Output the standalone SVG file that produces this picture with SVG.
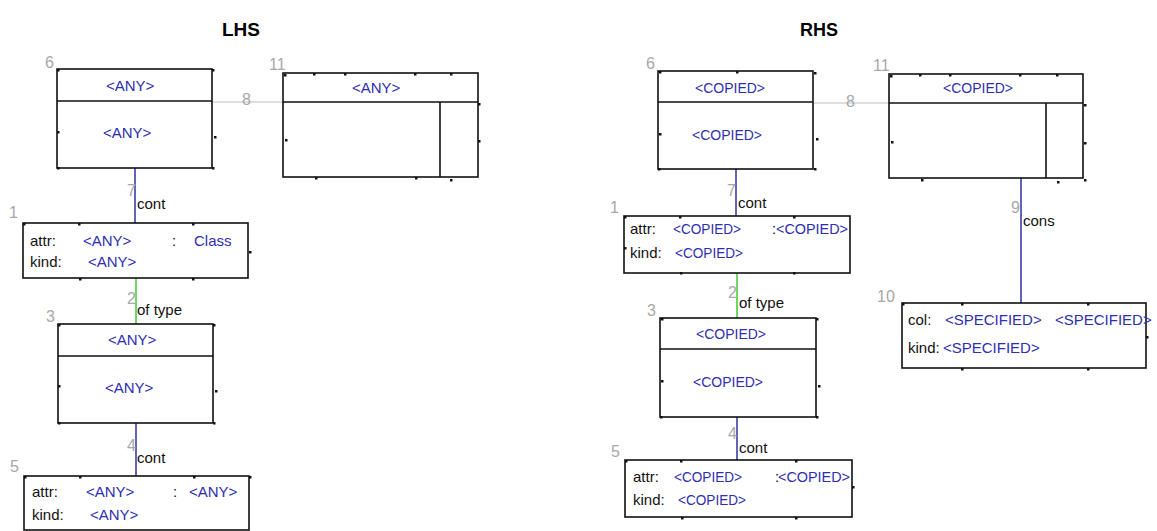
<svg xmlns="http://www.w3.org/2000/svg" width="1157" height="531" viewBox="0 0 1157 531">
<style>
text{font-family:"Liberation Sans",Arial,sans-serif;font-size:15px}
.t{font-weight:bold;font-size:19px;fill:#000}
.b{fill:none;stroke:#111;stroke-width:1.6}
.v{fill:#2e2eb0}
.k{fill:#111}
.n{fill:#a8a8a8;font-size:16px}
.c{stroke:#3c3ca8;stroke-width:1.6;fill:none}
.g{stroke:#4ccc3c;stroke-width:1.6;fill:none}
.h{stroke:#c0c0c0;stroke-width:1.2;fill:none}
.tk{fill:#111}
</style>
<defs>
  <rect id="tk" class="tk" x="-1" y="-1" width="2.5" height="2.5"/>
</defs>
<rect width="1157" height="531" fill="#fff"/>
<text class="t" x="222" y="36" textLength="38" lengthAdjust="spacingAndGlyphs">LHS</text>
<text class="t" x="800" y="36" textLength="38" lengthAdjust="spacingAndGlyphs">RHS</text>

<g id="connectors">
  <line class="h" x1="212" y1="102" x2="283" y2="102"/>
  <text class="n" x="242" y="105">8</text>
  <line class="c" x1="135" y1="168" x2="135" y2="223"/>
  <text class="n" x="127" y="196">7</text><text class="k" x="137" y="209">cont</text>
  <line class="g" x1="136" y1="278" x2="136" y2="324"/>
  <text class="n" x="127" y="304">2</text><text class="k" x="137" y="315">of type</text>
  <line class="c" x1="136" y1="423" x2="136" y2="476"/>
  <text class="n" x="127" y="451">4</text><text class="k" x="137" y="463">cont</text>

  <line class="h" x1="813" y1="103" x2="889" y2="103"/>
  <text class="n" x="846" y="107">8</text>
  <line class="c" x1="736" y1="169" x2="736" y2="216"/>
  <text class="n" x="727" y="196">7</text><text class="k" x="738" y="208">cont</text>
  <line class="g" x1="737" y1="273" x2="737" y2="318"/>
  <text class="n" x="728" y="298">2</text><text class="k" x="739" y="308">of type</text>
  <line class="c" x1="737" y1="417" x2="737" y2="460"/>
  <text class="n" x="728" y="439">4</text><text class="k" x="739" y="453">cont</text>
  <line class="c" x1="1021" y1="178" x2="1021" y2="303"/>
  <text class="n" x="1011" y="213">9</text><text class="k" x="1023" y="226">cons</text>
</g>

<g id="lhs-node-6">
  <text class="n" x="45" y="68">6</text>
  <rect class="b" x="57" y="69" width="155" height="99"/>
  <line class="b" x1="57" y1="101" x2="212" y2="101"/>
  <use href="#tk" x="58" y="70"/><use href="#tk" x="213" y="70"/><use href="#tk" x="58" y="132"/><use href="#tk" x="215" y="137"/><use href="#tk" x="58" y="168"/><use href="#tk" x="213" y="168"/>
  <text class="v" x="106" y="91">&lt;ANY&gt;</text>
  <text class="v" x="103" y="138">&lt;ANY&gt;</text>
</g>
<g id="lhs-node-11">
  <text class="n" x="269" y="70">11</text>
  <rect class="b" x="283" y="73" width="195" height="104"/>
  <line class="b" x1="283" y1="102" x2="478" y2="102"/>
  <line class="b" x1="440" y1="102" x2="440" y2="177"/>
  <use href="#tk" x="285" y="75"/><use href="#tk" x="314" y="74"/><use href="#tk" x="345" y="74"/><use href="#tk" x="415" y="74"/><use href="#tk" x="451" y="74"/><use href="#tk" x="479" y="104"/><use href="#tk" x="286" y="140"/><use href="#tk" x="479" y="141"/><use href="#tk" x="316" y="178"/><use href="#tk" x="416" y="178"/><use href="#tk" x="451" y="180"/>
  <text class="v" x="352" y="93">&lt;ANY&gt;</text>
</g>
<g id="lhs-node-1">
  <text class="n" x="9" y="218">1</text>
  <rect class="b" x="23" y="223" width="225" height="55"/>
  <use href="#tk" x="24" y="224"/><use href="#tk" x="79" y="224"/><use href="#tk" x="193" y="224"/><use href="#tk" x="250" y="252"/><use href="#tk" x="80" y="279"/><use href="#tk" x="193" y="279"/>
  <text class="k" x="30" y="246">attr:</text>
  <text class="v" x="83" y="246">&lt;ANY&gt;</text>
  <text class="k" x="172" y="246">:</text>
  <text class="v" x="194" y="246">Class</text>
  <text class="k" x="30" y="267">kind:</text>
  <text class="v" x="88" y="267">&lt;ANY&gt;</text>
</g>
<g id="lhs-node-3">
  <text class="n" x="46" y="322">3</text>
  <rect class="b" x="58" y="324" width="155" height="99"/>
  <line class="b" x1="58" y1="356" x2="213" y2="356"/>
  <use href="#tk" x="59" y="325"/><use href="#tk" x="214" y="325"/><use href="#tk" x="59" y="386"/><use href="#tk" x="216" y="391"/><use href="#tk" x="59" y="423"/><use href="#tk" x="214" y="423"/>
  <text class="v" x="108" y="345">&lt;ANY&gt;</text>
  <text class="v" x="105" y="393">&lt;ANY&gt;</text>
</g>
<g id="lhs-node-5">
  <text class="n" x="10" y="472">5</text>
  <rect class="b" x="24" y="476" width="225" height="54"/>
  <use href="#tk" x="25" y="477"/><use href="#tk" x="80" y="477"/><use href="#tk" x="194" y="477"/><use href="#tk" x="250" y="477"/>
  <text class="k" x="32" y="497">attr:</text>
  <text class="v" x="86" y="497">&lt;ANY&gt;</text>
  <text class="k" x="173" y="497">:</text>
  <text class="v" x="189" y="497">&lt;ANY&gt;</text>
  <text class="k" x="32" y="520">kind:</text>
  <text class="v" x="90" y="520">&lt;ANY&gt;</text>
</g>

<g id="rhs-node-6">
  <text class="n" x="646" y="69">6</text>
  <rect class="b" x="658" y="71" width="155" height="98"/>
  <line class="b" x1="658" y1="102" x2="813" y2="102"/>
  <use href="#tk" x="660" y="72"/><use href="#tk" x="737" y="72"/><use href="#tk" x="815" y="73"/><use href="#tk" x="660" y="134"/><use href="#tk" x="817" y="139"/><use href="#tk" x="659" y="169"/><use href="#tk" x="815" y="169"/>
  <text class="v" x="695" y="93" textLength="70" lengthAdjust="spacingAndGlyphs">&lt;COPIED&gt;</text>
  <text class="v" x="692" y="140" textLength="70" lengthAdjust="spacingAndGlyphs">&lt;COPIED&gt;</text>
</g>
<g id="rhs-node-11">
  <text class="n" x="873" y="71">11</text>
  <rect class="b" x="889" y="74" width="194" height="104"/>
  <line class="b" x1="889" y1="103" x2="1083" y2="103"/>
  <line class="b" x1="1046" y1="103" x2="1046" y2="178"/>
  <use href="#tk" x="891" y="76"/><use href="#tk" x="920" y="75"/><use href="#tk" x="950" y="75"/><use href="#tk" x="1020" y="75"/><use href="#tk" x="1057" y="75"/><use href="#tk" x="1085" y="105"/><use href="#tk" x="892" y="142"/><use href="#tk" x="1085" y="143"/><use href="#tk" x="922" y="180"/><use href="#tk" x="1058" y="182"/><use href="#tk" x="1085" y="180"/>
  <text class="v" x="943" y="93" textLength="70" lengthAdjust="spacingAndGlyphs">&lt;COPIED&gt;</text>
</g>
<g id="rhs-node-1">
  <text class="n" x="610" y="213">1</text>
  <rect class="b" x="624" y="216" width="226" height="57"/>
  <use href="#tk" x="625" y="217"/><use href="#tk" x="680" y="217"/><use href="#tk" x="794" y="217"/><use href="#tk" x="625" y="248"/><use href="#tk" x="681" y="273"/><use href="#tk" x="794" y="273"/>
  <text class="k" x="630" y="234">attr:</text>
  <text class="v" x="673" y="234" textLength="68" lengthAdjust="spacingAndGlyphs">&lt;COPIED&gt;</text>
  <text class="k" x="772" y="234">:</text>
  <text class="v" x="776" y="234" textLength="72" lengthAdjust="spacingAndGlyphs">&lt;COPIED&gt;</text>
  <text class="k" x="630" y="258">kind:</text>
  <text class="v" x="675" y="258" textLength="68" lengthAdjust="spacingAndGlyphs">&lt;COPIED&gt;</text>
</g>
<g id="rhs-node-3">
  <text class="n" x="647" y="316">3</text>
  <rect class="b" x="660" y="318" width="156" height="99"/>
  <line class="b" x1="660" y1="349" x2="816" y2="349"/>
  <use href="#tk" x="662" y="319"/><use href="#tk" x="817" y="319"/><use href="#tk" x="662" y="381"/><use href="#tk" x="819" y="386"/><use href="#tk" x="661" y="417"/><use href="#tk" x="817" y="417"/>
  <text class="v" x="696" y="339" textLength="70" lengthAdjust="spacingAndGlyphs">&lt;COPIED&gt;</text>
  <text class="v" x="693" y="387" textLength="70" lengthAdjust="spacingAndGlyphs">&lt;COPIED&gt;</text>
</g>
<g id="rhs-node-5">
  <text class="n" x="611" y="457">5</text>
  <rect class="b" x="625" y="460" width="227" height="57"/>
  <use href="#tk" x="626" y="461"/><use href="#tk" x="681" y="461"/><use href="#tk" x="796" y="461"/><use href="#tk" x="853" y="487"/><use href="#tk" x="682" y="518"/><use href="#tk" x="796" y="518"/>
  <text class="k" x="633" y="482">attr:</text>
  <text class="v" x="674" y="482" textLength="68" lengthAdjust="spacingAndGlyphs">&lt;COPIED&gt;</text>
  <text class="k" x="775" y="482">:</text>
  <text class="v" x="778" y="482" textLength="72" lengthAdjust="spacingAndGlyphs">&lt;COPIED&gt;</text>
  <text class="k" x="633" y="505">kind:</text>
  <text class="v" x="678" y="505" textLength="68" lengthAdjust="spacingAndGlyphs">&lt;COPIED&gt;</text>
</g>
<g id="rhs-node-10">
  <text class="n" x="877" y="302">10</text>
  <rect class="b" x="902" y="303" width="244" height="65"/>
  <use href="#tk" x="903" y="304"/><use href="#tk" x="962" y="304"/><use href="#tk" x="1088" y="304"/><use href="#tk" x="1147" y="337"/><use href="#tk" x="962" y="369"/><use href="#tk" x="1088" y="369"/>
  <text class="k" x="908" y="325">col:</text>
  <text class="v" x="945" y="325">&lt;SPECIFIED&gt;</text>
  <text class="v" x="1055" y="325">&lt;SPECIFIED&gt;</text>
  <text class="k" x="908" y="353">kind:</text>
  <text class="v" x="943" y="353">&lt;SPECIFIED&gt;</text>
</g>
</svg>
